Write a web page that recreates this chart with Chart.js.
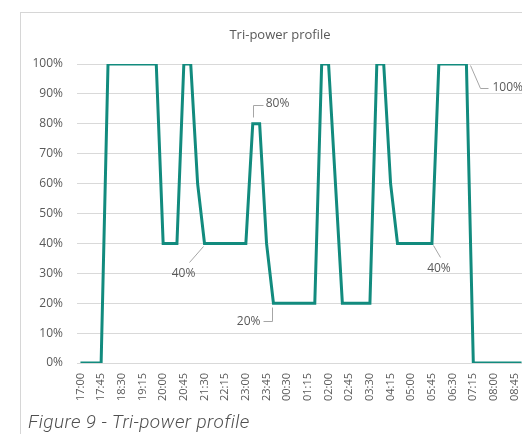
<!DOCTYPE html>
<html>
<head>
<meta charset="utf-8">
<script src="https://cdn.jsdelivr.net/npm/chart.js@4/dist/chart.umd.min.js"></script>
<style>
  html, body { margin: 0; padding: 0; background: #fff; overflow: hidden; width: 522px; height: 434px; }
  #frame { position: absolute; left: 20px; top: 12px; width: 620px; height: 520px; border: 1px solid #d6d6d6; box-sizing: border-box; }
  #c { position: absolute; left: 0; top: 0; }
  #caption { position: absolute; left: 28px; top: 410px; font-family: Roboto, "Liberation Sans", sans-serif; font-style: italic; font-weight: 300; font-size: 19px; letter-spacing: 0.4px; color: #4f4f4f; white-space: nowrap; }
</style>
</head>
<body>
<div id="frame"></div>
<canvas id="c" width="560" height="434"></canvas>
<div id="caption">Figure 9 - Tri-power profile</div>
<script>
const times = [
  '17:00','17:15','17:30','17:45','18:00','18:15','18:30','18:45',
  '19:00','19:15','19:30','19:45','20:00','20:15','20:30','20:45',
  '21:00','21:15','21:30','21:45','22:00','22:15','22:30','22:45',
  '23:00','23:15','23:30','23:45','00:00','00:15','00:30','00:45',
  '01:00','01:15','01:30','01:45','02:00','02:15','02:30','02:45',
  '03:00','03:15','03:30','03:45','04:00','04:15','04:30','04:45',
  '05:00','05:15','05:30','05:45','06:00','06:15','06:30','06:45',
  '07:00','07:15','07:30','07:45','08:00','08:15','08:30','08:45',
  '09:00'
];
const power = [
  0, 0, 0, 0, 100, 100, 100, 100,
  100, 100, 100, 100, 40, 40, 40, 100,
  100, 60, 40, 40, 40, 40, 40, 40,
  40, 80, 80, 40, 20, 20, 20, 20,
  20, 20, 20, 100, 100, 60, 20, 20,
  20, 20, 20, 100, 100, 60, 40, 40,
  40, 40, 40, 40, 100, 100, 100, 100,
  100, 0, 0, 0, 0, 0, 0, 0,
  0
];
const yTicks = [0, 10, 20, 30, 40, 50, 60, 70, 80, 90, 100];
const labelledPoints = [18, 25, 28, 51, 56];

const TEXT = '#595959';
const FONT = 'Open Sans';

const leaderPlugin = {
  id: 'leaders',
  afterDatasetsDraw(chart, args, opts) {
    const ctx = chart.ctx;
    const xs = chart.scales.x, ys = chart.scales.y;
    ctx.save();
    ctx.font = '12px "' + FONT + '"';
    ctx.textBaseline = 'middle';
    labelledPoints.forEach(i => {
      const st = opts.styles[i];
      const px = xs.getPixelForValue(i);
      const py = ys.getPixelForValue(power[i]);
      ctx.strokeStyle = '#a6a6a6';
      ctx.lineWidth = 1;
      ctx.beginPath();
      st.path.forEach((p, j) => {
        const x = Math.round(px + p[0]) + 0.5, y = Math.round(py + p[1]) + 0.5;
        if (j === 0) ctx.moveTo(x, y); else ctx.lineTo(x, y);
      });
      ctx.stroke();
      ctx.fillStyle = TEXT;
      ctx.textAlign = st.align;
      ctx.fillText(power[i] + '%', px + st.text[0], py + st.text[1]);
    });
    ctx.restore();
  }
};

new Chart(document.getElementById('c'), {
  type: 'line',
  data: {
    labels: times,
    datasets: [{
      data: power,
      borderColor: '#128b7e',
      borderWidth: 3,
      pointRadius: 0,
      tension: 0,
      fill: false,
      borderJoinStyle: 'miter'
    }]
  },
  options: {
    responsive: false,
    animation: false,
    layout: { padding: { left: 0, right: 0, top: 0, bottom: 0 } },
    plugins: {
      legend: { display: false },
      tooltip: { enabled: false },
      title: {
        display: true,
        text: 'Tri-power profile',
        color: TEXT,
        font: { family: FONT, size: 13, weight: 'normal' },
        padding: { top: 27, bottom: 21.4 }
      },
      leaders: {
        styles: {
          25: { path: [[0, -7], [0, -19], [10, -19]], text: [13, -20], align: 'left' },
          18: { path: [[-2, 3], [-16, 19]], text: [-21, 30], align: 'center' },
          28: { path: [[-1, 4], [-1, 18], [-10, 18]], text: [-13, 18], align: 'right' },
          51: { path: [[1, 2], [8, 14]], text: [7, 25], align: 'center' },
          56: { path: [[4, 1], [14, 24], [22, 24]], text: [26, 24], align: 'left' }
        }
      }
    },
    scales: {
      x: {
        type: 'category',
        offset: true,
        grid: { display: false, drawTicks: false },
        border: { display: false },
        ticks: {
          autoSkip: false,
          minRotation: 90,
          maxRotation: 90,
          padding: 10,
          color: TEXT,
          font: { family: FONT, size: 11 },
          callback: (v, i) => (i % 3 === 0 ? times[i] : '')
        },
        afterFit: s => { s.height = 71; }
      },
      y: {
        min: 0,
        max: 100,
        afterBuildTicks: s => { s.ticks = yTicks.map(v => ({ value: v })); },
        grid: { color: '#d9d9d9', lineWidth: 1, drawTicks: false },
        border: { display: false },
        ticks: {
          padding: 14,
          color: TEXT,
          font: { family: FONT, size: 12 },
          callback: v => v + '%'
        },
        afterFit: s => { s.width = 77; }
      },
      yr: {
        position: 'right',
        display: true,
        grid: { display: false, drawTicks: false },
        border: { display: false },
        ticks: { display: false },
        afterFit: s => { s.width = 35; }
      }
    }
  },
  plugins: [leaderPlugin]
});
</script>
</body>
</html>
